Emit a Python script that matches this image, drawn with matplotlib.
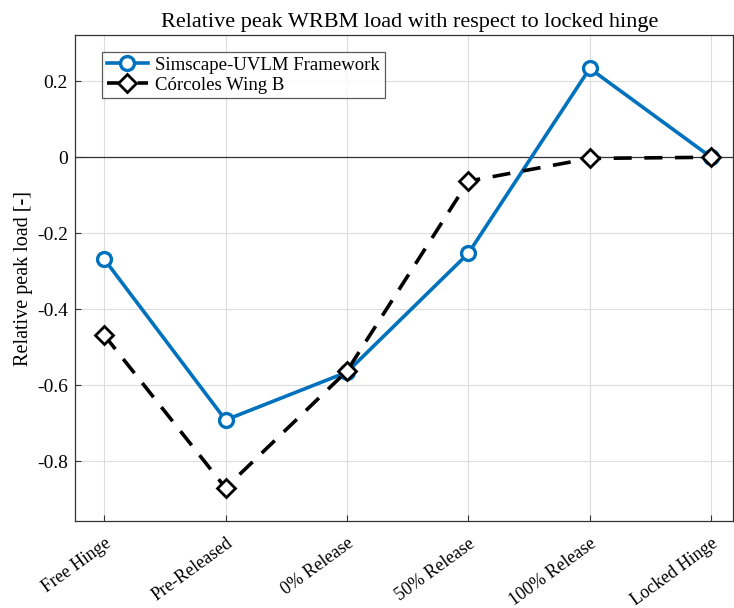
import matplotlib
matplotlib.use("Agg")
import matplotlib.pyplot as plt
from matplotlib.ticker import FixedLocator

plt.rcParams['font.family'] = ['Liberation Serif', 'DejaVu Serif']

categories = ["Free Hinge", "Pre-Released", "0% Release", "50% Release",
              "100% Release", "Locked Hinge"]
simscape_uvlm = [-0.268, -0.692, -0.566, -0.253, 0.234, 0.0]
corcoles_wing_b = [-0.468, -0.871, -0.563, -0.063, -0.003, 0.0]
ytick_values = [-0.8, -0.6, -0.4, -0.2, 0.0, 0.2]
ytick_labels = ["-0.8", "-0.6", "-0.4", "-0.2", "0", "0.2"]

x = list(range(1, len(categories) + 1))

fig = plt.figure(figsize=(7.34, 6.08), dpi=100)
ax = fig.add_axes([75 / 734, 1 - 521 / 608, 658 / 734, 486 / 608])

ax.axhline(0, color='#333333', lw=0.9, zorder=1)
ax.plot(x, simscape_uvlm, '-o', color='#0072BD', lw=2.6, ms=10,
        mfc='white', mec='#0072BD', mew=2.4, label='Simscape-UVLM Framework', zorder=3)
ax.plot(x, corcoles_wing_b, '--D', color='black', lw=2.6, ms=9,
        mfc='white', mec='black', mew=2.0, dashes=(5, 3.5),
        label='Córcoles Wing B', zorder=4)

ax.set_xlim(0.76, 6.18)
ax.set_ylim(-0.958, 0.322)
ax.set_xticks(x)
ax.set_xticklabels(categories, rotation=36, ha='right', rotation_mode='anchor', fontsize=13)
ax.yaxis.set_major_locator(FixedLocator(ytick_values))
ax.set_yticklabels(ytick_labels, fontsize=14)
ax.tick_params(direction='in', length=4, width=0.8, color='#333333', top=False, right=False)
ax.tick_params(axis='x', pad=10)
ax.tick_params(axis='y', pad=5)
ax.grid(True, color='#dddddd', lw=0.8)
ax.set_axisbelow(True)
for s in ax.spines.values():
    s.set_color('#333333')
    s.set_linewidth(0.9)

ax.set_title('Relative peak WRBM load with respect to locked hinge', fontsize=16,
             pad=6, x=0.508)
ax.set_ylabel('Relative peak load [-]', fontsize=14.5, labelpad=3)

leg = ax.legend(loc='upper left', bbox_to_anchor=(0.041, 0.965), fontsize=13.5,
                frameon=True, fancybox=False, edgecolor='#333333', handlelength=2.2,
                borderpad=0.25, labelspacing=0.15, handletextpad=0.4, borderaxespad=0)
leg.get_frame().set_linewidth(0.9)

fig.savefig('out.png', dpi=100)
